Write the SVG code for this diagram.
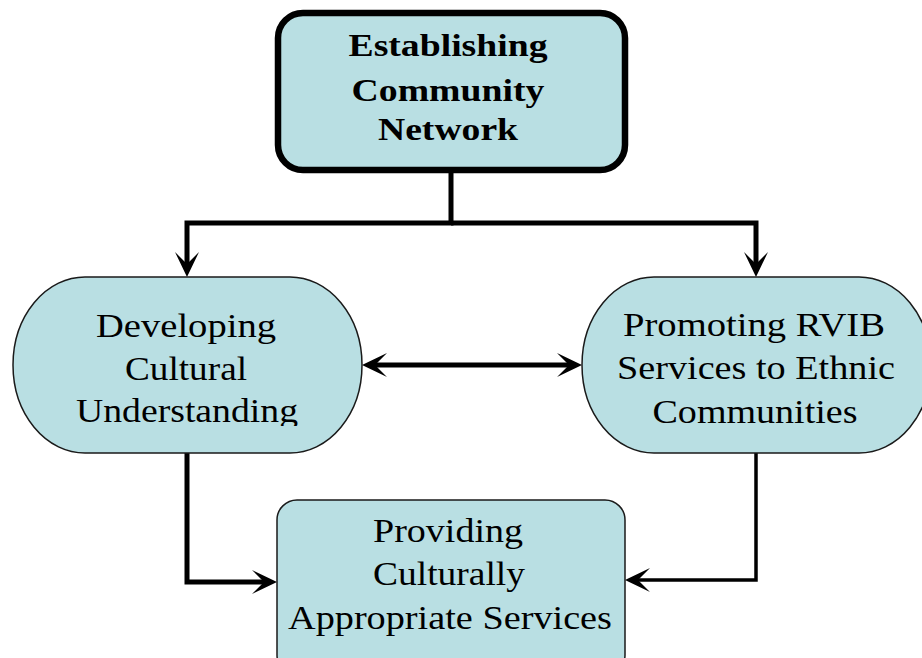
<svg xmlns="http://www.w3.org/2000/svg" width="922" height="658" viewBox="0 0 922 658">
  <style>
    .box { fill: #b9dfe3; stroke: #1a1a1a; stroke-width: 1.5; }
    .main { fill: #b9dfe3; stroke: #000; stroke-width: 6.5; }
    .lbl { font-family: "Liberation Serif", "Times New Roman", serif; font-size: 34px; fill: #000; text-anchor: middle; }
    .bold { font-weight: bold; font-size: 32px; }
    .wire { fill: none; stroke: #000; stroke-linejoin: miter; stroke-linecap: butt; }
  </style>
  <defs>
    <marker id="ah" markerUnits="userSpaceOnUse" markerWidth="28" markerHeight="26" viewBox="-26 -13 28 26" refX="-10" refY="0" orient="auto-start-reverse">
      <path d="M0,0 L-25,-12 L-13,0 L-25,12 Z" fill="#000"/>
    </marker>
    <clipPath id="cut-left">
      <rect x="0" y="270" width="400" height="156"/>
    </clipPath>
  </defs>

  <g id="connectors">
    <path class="wire" stroke-width="5" d="M451,172 V223 H187 V267" marker-end="url(#ah)"/>
    <path class="wire" stroke-width="5" d="M451,223 H756 V267" marker-end="url(#ah)"/>
    <path class="wire" stroke-width="5" d="M372,365 H572" marker-start="url(#ah)" marker-end="url(#ah)"/>
    <path class="wire" stroke-width="5" d="M187,453 V582 H267" marker-end="url(#ah)"/>
    <path class="wire" stroke-width="3.5" d="M756,453 V580 H635" marker-end="url(#ah)"/>
  </g>

  <g id="establishing">
    <rect class="main" x="278" y="13" width="347" height="157" rx="25" ry="25"/>
    <text class="lbl bold" x="448" y="56" textLength="199" lengthAdjust="spacingAndGlyphs">Establishing</text>
    <text class="lbl bold" x="448" y="101" textLength="193" lengthAdjust="spacingAndGlyphs">Community</text>
    <text class="lbl bold" x="448" y="140" textLength="140" lengthAdjust="spacingAndGlyphs">Network</text>
  </g>

  <g id="developing">
    <rect class="box" x="13" y="277" width="349" height="176" rx="72" ry="88"/>
    <g clip-path="url(#cut-left)">
      <text class="lbl" x="186" y="337" textLength="180" lengthAdjust="spacingAndGlyphs">Developing</text>
      <text class="lbl" x="186" y="380" textLength="122" lengthAdjust="spacingAndGlyphs">Cultural</text>
      <text class="lbl" x="187" y="422" textLength="222" lengthAdjust="spacingAndGlyphs">Understanding</text>
    </g>
  </g>

  <g id="promoting">
    <rect class="box" x="582" y="277" width="349" height="176" rx="72" ry="88"/>
    <text class="lbl" x="754" y="336" textLength="262" lengthAdjust="spacingAndGlyphs">Promoting RVIB</text>
    <text class="lbl" x="756" y="379" textLength="278" lengthAdjust="spacingAndGlyphs">Services to Ethnic</text>
    <text class="lbl" x="755" y="423" textLength="205" lengthAdjust="spacingAndGlyphs">Communities</text>
  </g>

  <g id="providing">
    <rect class="box" x="277" y="500" width="348" height="175" rx="20" ry="20"/>
    <text class="lbl" x="448" y="542" textLength="150" lengthAdjust="spacingAndGlyphs">Providing</text>
    <text class="lbl" x="449" y="585" textLength="152" lengthAdjust="spacingAndGlyphs">Culturally</text>
    <text class="lbl" x="450" y="629" textLength="324" lengthAdjust="spacingAndGlyphs">Appropriate Services</text>
  </g>
</svg>
